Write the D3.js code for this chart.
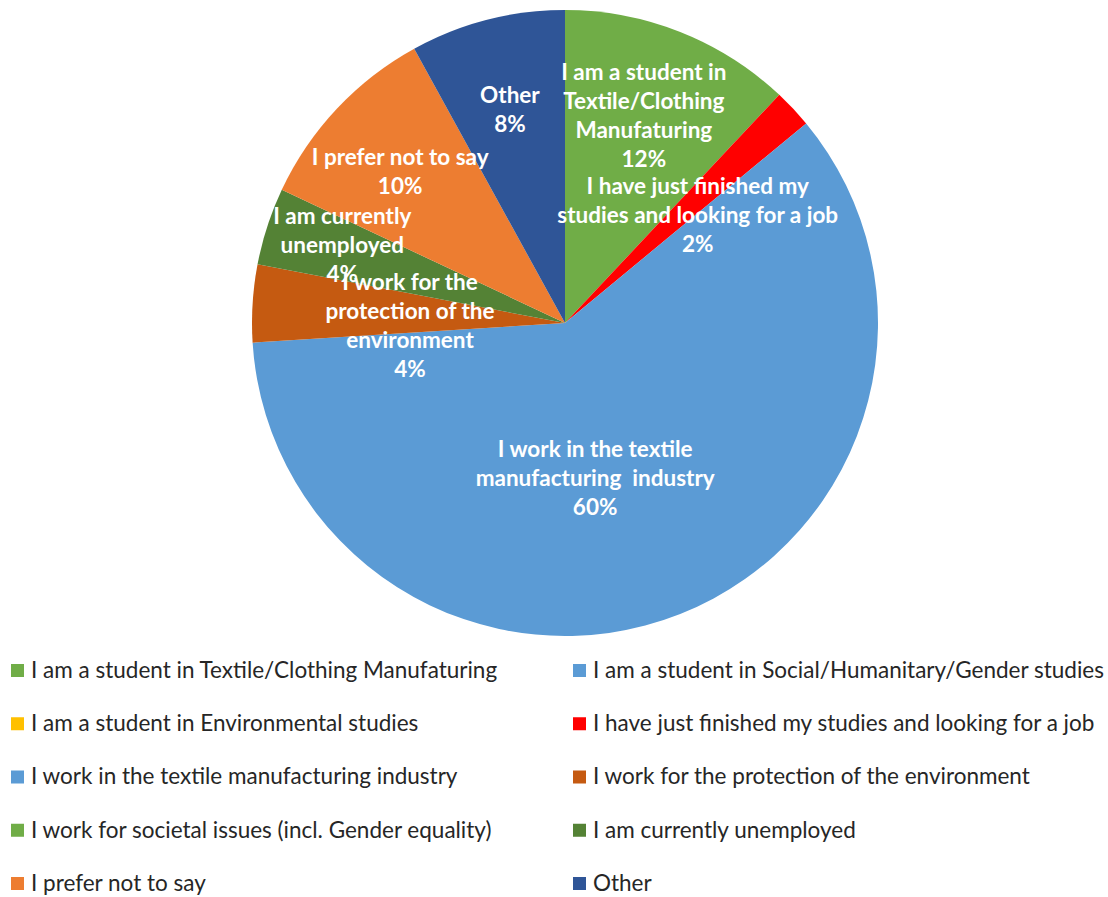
<!DOCTYPE html>
<html>
<head>
<meta charset="utf-8">
<script src="https://cdn.jsdelivr.net/npm/d3@7"></script>
<style>
  html, body { margin: 0; padding: 0; background: #ffffff; }
  svg { display: block; }
</style>
</head>
<body>
<svg id="chart" width="1108" height="897"></svg>
<script>
// Survey respondents by occupation (share of answers, %)
const categories = [
  "I am a student in Textile/Clothing Manufaturing",
  "I am a student in Social/Humanitary/Gender studies",
  "I am a student in Environmental studies",
  "I have just finished my studies and looking for a job",
  "I work in the textile manufacturing industry",
  "I work for the protection of the environment",
  "I work for societal issues (incl. Gender equality)",
  "I am currently unemployed",
  "I prefer not to say",
  "Other"
];
const values = [12, 0, 0, 2, 60, 4, 0, 4, 10, 8];
const colors = ["#70AD47", "#5B9BD5", "#FFC000", "#FF0000", "#5B9BD5",
                "#C55A11", "#70AD47", "#548235", "#ED7D31", "#2F5597"];

// Line breaks used inside the slice labels
const labelLines = [
  ["I am a student in", "Textile/Clothing", "Manufaturing"],
  [],
  [],
  ["I have just finished my", "studies and looking for a job"],
  ["I work in the textile", "manufacturing  industry"],
  ["I work for the", "protection of the", "environment"],
  [],
  ["I am currently", "unemployed"],
  ["I prefer not to say"],
  ["Other"]
];

// Label anchor placement: [angle in degrees clockwise from top, distance from centre]
const labelAnchor = [
  [20.8, 222], null, null, [50.9, 171], [169.0, 158],
  [268.9, 155], null, [289.3, 236], [312.6, 224], [345.5, 220]
];

const svg = d3.select("#chart");
const cx = 565, cy = 323, radius = 313;

const data = categories.map((c, i) => ({ name: c, value: values[i], color: colors[i], lines: labelLines[i], anchor: labelAnchor[i] }));

const pie = d3.pie().sort(null).value(d => d.value);
const arc = d3.arc().innerRadius(0).outerRadius(radius);

const g = svg.append("g").attr("transform", `translate(${cx},${cy})`);

const arcs = pie(data);

g.selectAll("path.slice")
  .data(arcs.filter(a => a.data.value > 0))
  .join("path")
  .attr("class", "slice")
  .attr("d", arc)
  .attr("fill", d => d.data.color);

// Data labels: category name + percentage, white bold
const lineH = 29;
const labelFont = "'Lato', 'Open Sans', sans-serif";
g.selectAll("text.lbl")
  .data(arcs.filter(a => a.data.value > 0 && a.data.anchor))
  .join("text")
  .attr("class", "lbl")
  .attr("text-anchor", "middle")
  .attr("font-family", labelFont)
  .attr("font-weight", "bold")
  .attr("font-size", 22.5)
  .attr("fill", "#ffffff")
  .each(function(d) {
    const [angDeg, r] = d.data.anchor;
    const a = angDeg * Math.PI / 180;
    const x = r * Math.sin(a), y = -r * Math.cos(a);
    const lines = d.data.lines.concat([d3.format(".0%")(d.data.value / 100)]);
    const y0 = y - (lines.length - 1) * lineH / 2;
    const t = d3.select(this);
    lines.forEach((ln, k) => {
      t.append("tspan")
        .attr("x", x)
        .attr("y", y0 + k * lineH)
        .attr("dy", "0.35em")
        .attr("xml:space", "preserve")
        .text(ln);
    });
  });

// Legend: two columns, five rows
const legendFont = "'Lato', 'Open Sans', sans-serif";
const colX = [11, 573];
const rowY = d3.scalePoint().domain(d3.range(5)).range([670, 883]);
const leg = svg.append("g").attr("class", "legend");
data.forEach((d, i) => {
  const col = i % 2, row = Math.floor(i / 2);
  const y = rowY(row);
  leg.append("rect")
    .attr("x", colX[col]).attr("y", y - 6)
    .attr("width", 13).attr("height", 13)
    .attr("fill", d.color);
  leg.append("text")
    .attr("x", colX[col] + 20).attr("y", y)
    .attr("dy", "0.35em")
    .attr("font-family", legendFont)
    .attr("font-size", 22.5)
    .attr("fill", "#262626")
    .text(d.name);
});
</script>
</body>
</html>
